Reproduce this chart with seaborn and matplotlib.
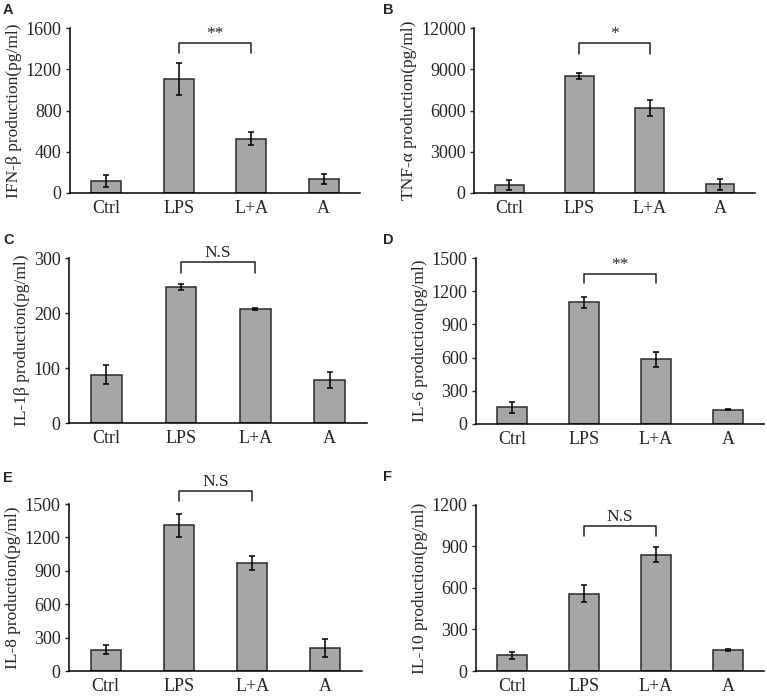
import matplotlib
matplotlib.use("Agg")
import matplotlib.pyplot as plt
import numpy as np
import pandas as pd
import seaborn as sns

# Groups on the x axis
groups = ["Ctrl", "LPS", "L+A", "A"]

# Mean values and error (SD) per cytokine
ifnb_mean = [118, 1105, 525, 138]
ifnb_err = [55, 152, 62, 50]

tnfa_mean = [610, 8520, 6180, 620]
tnfa_err = [360, 220, 600, 420]

il1b_mean = [88, 247, 207, 78]
il1b_err = [17, 6, 2, 15]

il6_mean = [150, 1100, 583, 130]
il6_err = [50, 52, 66, 6]

il8_mean = [190, 1307, 970, 207]
il8_err = [40, 102, 66, 78]

il10_mean = [113, 560, 840, 154]
il10_err = [24, 61, 55, 8]

# panel setup: letter, ylabel, means, errors, ymax, tick step, significance label, bracket y
panels = [
    ("A", "IFN-β production(pg/ml)", ifnb_mean, ifnb_err, 1600, 400, "**", 1456, 1353),
    ("B", "TNF-α production(pg/ml)", tnfa_mean, tnfa_err, 12000, 3000, "*", 10900, 10140),
    ("C", "IL-1β production(pg/ml)", il1b_mean, il1b_err, 300, 100, "N.S", 292, 273),
    ("D", "IL-6 production(pg/ml)", il6_mean, il6_err, 1500, 300, "**", 1355, 1274),
    ("E", "IL-8 production(pg/ml)", il8_mean, il8_err, 1500, 300, "N.S", 1617, 1524),
    ("F", "IL-10 production(pg/ml)", il10_mean, il10_err, 1200, 300, "N.S", 1048, 976),
]

# axes rectangles in figure fractions
rects = [
    [0.0913, 0.7231, 0.378, 0.2367],
    [0.618, 0.7231, 0.3664, 0.2367],
    [0.090, 0.3931, 0.3885, 0.2367],
    [0.6206, 0.3917, 0.3755, 0.2381],
    [0.090, 0.0373, 0.382, 0.2396],
    [0.6206, 0.0373, 0.3755, 0.2382],
]

letter_pos = [(0.004, 0.985), (0.500, 0.985), (0.004, 0.656), (0.500, 0.656),
              (0.004, 0.314), (0.500, 0.315)]

sns.set_style("white")
plt.rcParams["font.family"] = ["Liberation Serif", "DejaVu Serif"]
plt.rcParams["font.size"] = 12

fig = plt.figure(figsize=(7.67, 6.97), dpi=100)

for (letter, ylab, mean, err, ymax, step, sig, by_top, by_bot), rect, lp in zip(panels, rects, letter_pos):
    ax = fig.add_axes(rect)
    df = pd.DataFrame({"group": groups, "value": mean})
    sns.barplot(data=df, x="group", y="value", color="#a6a6a6", width=0.41,
                edgecolor="#2b2b2b", linewidth=1.1, saturation=1, ax=ax)
    ax.errorbar(np.arange(len(groups)), mean, yerr=err, fmt="none",
                ecolor="black", elinewidth=1.1, capsize=2.5, capthick=1.1)

    ax.set_xlim(-0.5, 3.5)
    ax.set_ylim(0, ymax)
    ax.set_yticks(np.arange(0, ymax + 1, step))
    ax.set_xlabel("")
    ax.set_ylabel(ylab, fontsize=12.5, labelpad=3)
    ax.tick_params(axis="y", direction="out", length=3, width=1, left=True, labelsize=13, pad=3)
    ax.tick_params(axis="x", length=0, labelsize=13, pad=5)
    sns.despine(ax=ax)
    for s in ["left", "bottom"]:
        ax.spines[s].set_color("black")
        ax.spines[s].set_linewidth(1.1)

    # significance bracket between LPS and L+A
    ax.plot([1, 1, 2, 2], [by_bot, by_top, by_top, by_bot], color="#222222",
            linewidth=1.1, clip_on=False)
    ax.text(1.5, by_top + ymax * 0.008, sig, ha="center", va="bottom",
            fontsize=12.5, clip_on=False)

    fig.text(lp[0], lp[1], letter, fontsize=10.5, fontweight="bold",
             family="Liberation Sans", ha="left", va="center")

fig.savefig("out.png", dpi=100)
